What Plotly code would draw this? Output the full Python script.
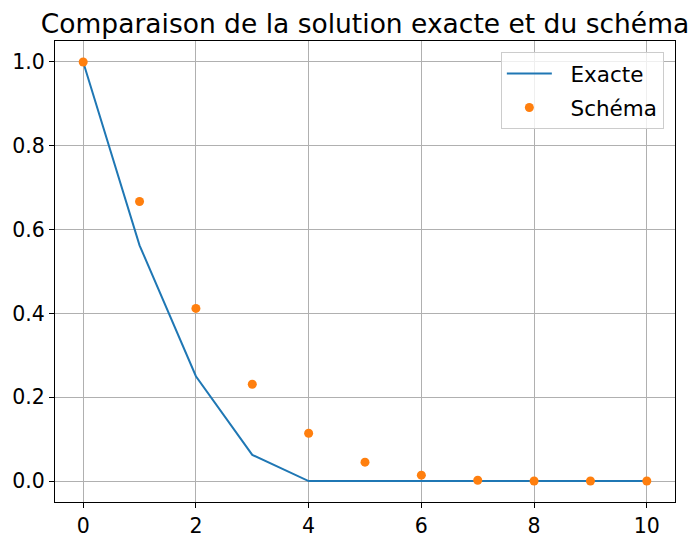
import plotly.graph_objects as go

x_exact = [0, 1, 2, 3, 4, 5, 6, 7, 8, 9, 10]
y_exact = [1.0, 0.5625, 0.25, 0.0625, 0.0, 0.0, 0.0, 0.0, 0.0, 0.0, 0.0]
x_scheme = [0, 1, 2, 3, 4, 5, 6, 7, 8, 9, 10]
y_scheme = [1.0, 0.667, 0.412, 0.231, 0.114, 0.045, 0.014, 0.002, 0.0, 0.0, 0.0]
x_ticks = [0, 2, 4, 6, 8, 10]
y_ticks = [0.0, 0.2, 0.4, 0.6, 0.8, 1.0]
pad = "\u00a0\u00a0"

fig = go.Figure()
fig.add_trace(go.Scatter(x=x_exact, y=y_exact, mode="lines", name=pad + "Exacte", legendgroup="a",
                         line=dict(color="#1f77b4", width=2)))
fig.add_trace(go.Scatter(x=x_scheme, y=y_scheme, mode="markers", name=pad + "Schéma", legendgroup="b",
                         marker=dict(color="#ff7f0e", size=9)))

font = "DejaVu Sans"
L, R, T, B = 47, 33, 33, 51
fig.update_layout(
    width=700, height=545,
    margin=dict(l=L, r=R, t=T, b=B, autoexpand=False),
    paper_bgcolor="white", plot_bgcolor="white",
    font=dict(family=font, size=20.5, color="black"),
    title=dict(text="Comparaison de la solution exacte et du schéma",
               x=(L + (700 - R)) / 2 / 700, xanchor="center", y=1 - 16 / 545, yanchor="middle",
               font=dict(family=font, size=26.5, color="black")),
    showlegend=True,
    legend=dict(x=0.982, y=0.976, xanchor="right", yanchor="top",
                bgcolor="rgba(255,255,255,0.8)", bordercolor="#cccccc", borderwidth=1,
                font=dict(family=font, size=21.5), itemwidth=45,
                traceorder="grouped", tracegroupgap=3),
    xaxis=dict(range=[-0.5, 10.5], tickvals=x_ticks, ticktext=[str(v) for v in x_ticks],
               showgrid=True, gridcolor="#b0b0b0", gridwidth=1, zeroline=False,
               showline=True, linecolor="black", linewidth=1, mirror=True,
               ticks="outside", ticklen=5, tickcolor="black"),
    yaxis=dict(range=[-0.05, 1.05], tickvals=y_ticks, ticktext=[f"{v:.1f}" for v in y_ticks],
               showgrid=True, gridcolor="#b0b0b0", gridwidth=1, zeroline=False,
               showline=True, linecolor="black", linewidth=1, mirror=True,
               ticks="outside", ticklen=5, tickcolor="black"),
)
fig.write_html("out.html")
